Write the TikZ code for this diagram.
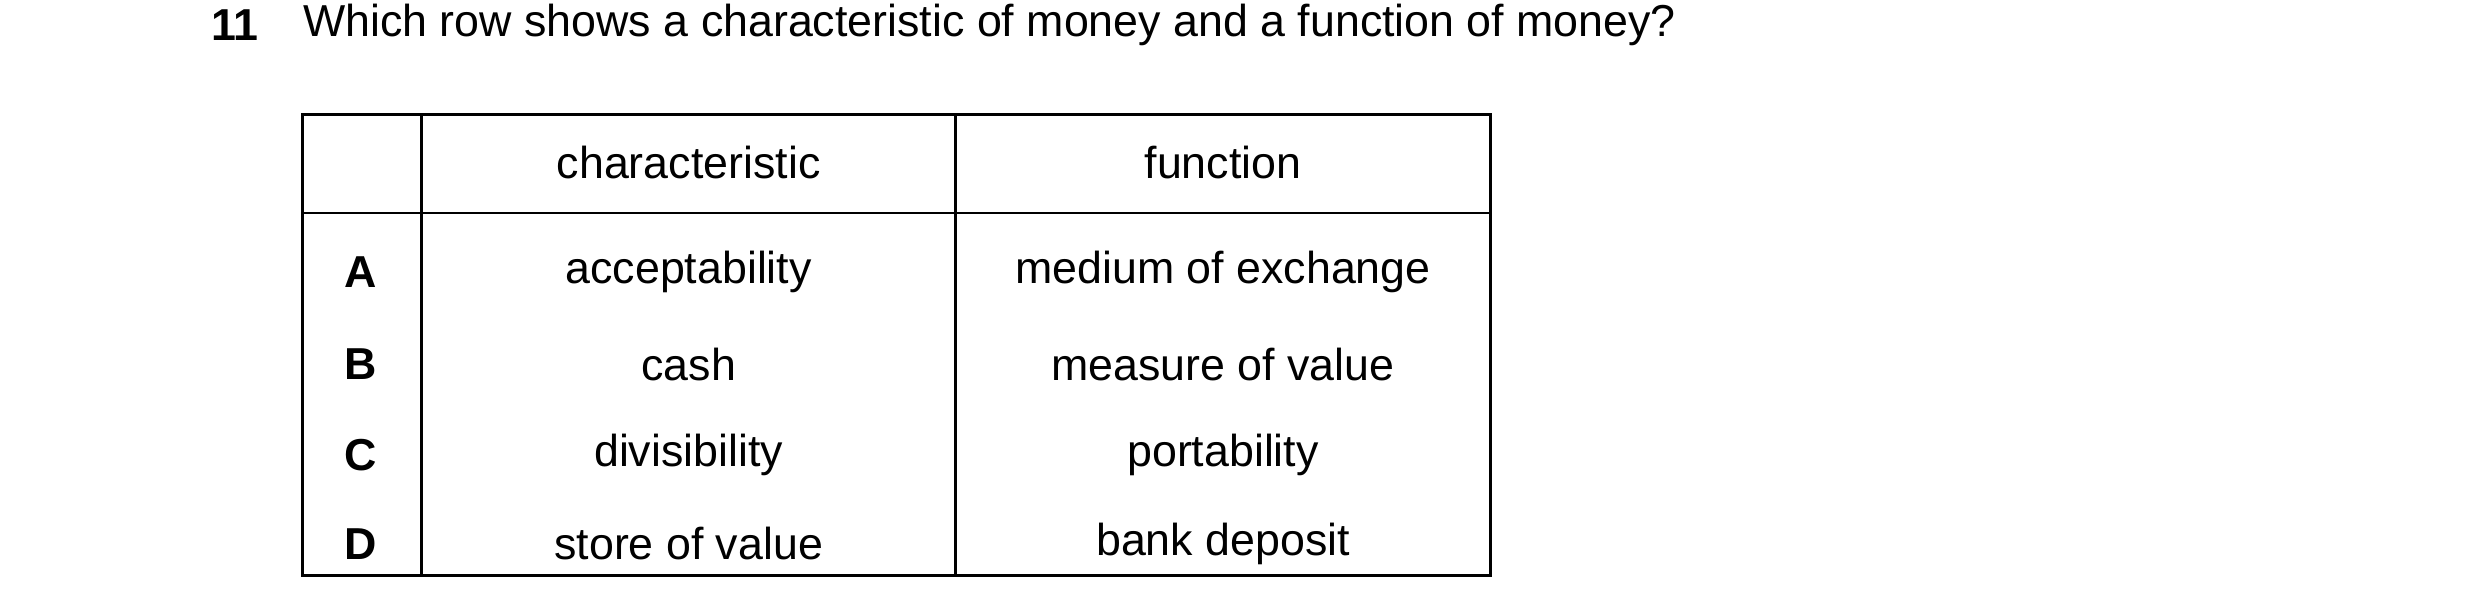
\documentclass[tikz,border=0pt]{standalone}
\usepackage{fontspec}
\setmainfont{Liberation Sans}
\usetikzlibrary{positioning}

\begin{document}
\begin{tikzpicture}[x=0.01cm,y=-0.01cm,
    cell/.style={inner sep=0pt, font=\fontsize{8}{9.6}\selectfont},
    lbl/.style={cell, font=\fontsize{8}{9.6}\selectfont\bfseries}]
    \useasboundingbox (0,0) rectangle (1560,386);

    % Question
    \node[lbl, anchor=west] (qnum) at (132,16) {11};
    \node[cell, anchor=west] (question) at (190,16) {Which row shows a characteristic of money and a function of money?};

    % Table frame
    \draw[line width=0.5pt] (190,72) rectangle (937,362);
    \draw[line width=0.5pt] (190,134) -- (937,134);
    \draw[line width=0.5pt] (265,72) -- (265,362);
    \draw[line width=0.5pt] (601,72) -- (601,362);

    % Header
    \node[cell] (hchar) at (433,102) {characteristic};
    \node[cell] (hfunc) at (769,102) {function};

    % Rows
    \foreach \key/\ch/\fn/\y in {A/acceptability/medium of exchange/171,
                                 B/cash/measure of value/229,
                                 C/divisibility/portability/286,
                                 D/store of value/bank deposit/342} {
        \node[lbl] (key\key) at (227,\y) {\key};
        \node[cell] (char\key) at (433,\y) {\ch};
        \node[cell] (func\key) at (769,\y) {\fn};
    }
\end{tikzpicture}
\end{document}
